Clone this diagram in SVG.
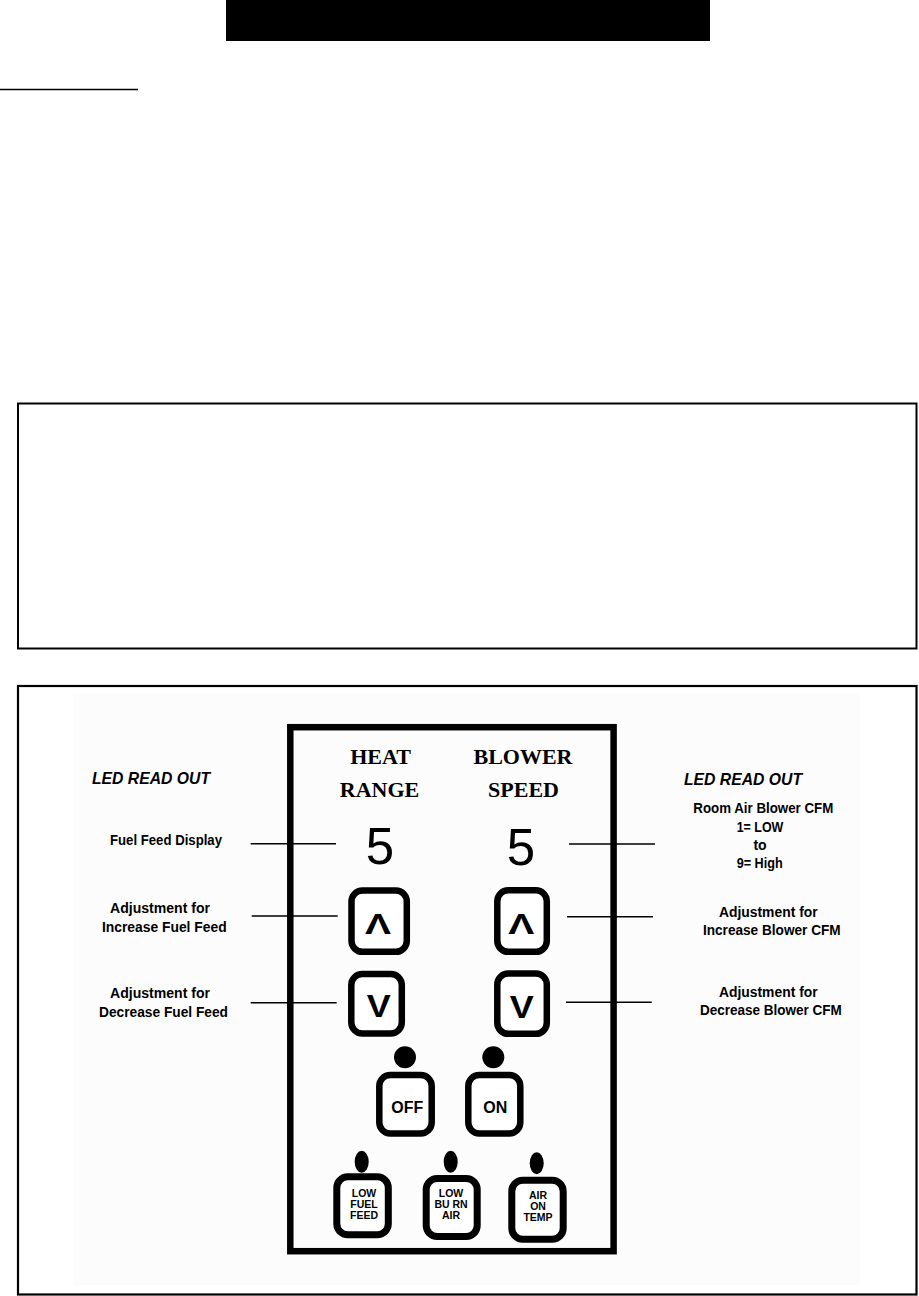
<svg xmlns="http://www.w3.org/2000/svg" width="919" height="1296" viewBox="0 0 919 1296">
<style>
.lbl{font-family:"Liberation Sans",Arial,sans-serif;font-weight:bold;font-size:14px;fill:#000;text-anchor:middle}
.led{font-family:"Liberation Sans",Arial,sans-serif;font-weight:bold;font-style:italic;font-size:16.5px;fill:#000}
.hdr{font-family:"Liberation Serif","Times New Roman",serif;font-weight:bold;font-size:22px;fill:#000;text-anchor:middle}
.num{font-family:"Liberation Sans",Arial,sans-serif;font-size:51px;fill:#000;text-anchor:middle}
.sym{font-family:"Liberation Sans",Arial,sans-serif;font-weight:bold;fill:#000;text-anchor:middle}
.btn{fill:#fff;stroke:#000;stroke-width:6.5}
.btn2{fill:#fff;stroke:#000;stroke-width:7}
.tiny{font-family:"Liberation Sans",Arial,sans-serif;font-weight:bold;font-size:10.5px;fill:#000;text-anchor:middle}
.conn line{stroke:#000;stroke-width:1.6}
</style>
<rect width="919" height="1296" fill="#fff"/>
<g id="header"><rect x="226" y="0" width="484" height="41" fill="#000"/></g>
<g id="underline"><line x1="0" y1="89.5" x2="138" y2="89.5" stroke="#000" stroke-width="1.6"/></g>
<g id="box1"><rect x="18" y="403.5" width="898.5" height="245" fill="none" stroke="#000" stroke-width="2"/></g>
<g id="box2">
<rect x="73" y="693" width="787" height="592" fill="#fcfcfc"/>
<rect x="18" y="686" width="898.5" height="608.5" fill="none" stroke="#000" stroke-width="2.2"/>
</g>
<g id="panel">
<rect x="290.3" y="727.2" width="323.3" height="524" fill="none" stroke="#000" stroke-width="6.5"/>
<text class="hdr" x="380.5" y="764">HEAT</text>
<text class="hdr" x="379.5" y="797">RANGE</text>
<text class="hdr" x="523" y="764">BLOWER</text>
<text class="hdr" x="523.5" y="797">SPEED</text>
</g>
<g id="heat-display"><text class="num" x="380" y="864">5</text></g>
<g id="blower-display"><text class="num" x="521" y="865">5</text></g>
<g id="heat-up"><rect class="btn" x="351.5" y="890.5" width="55.3" height="61.3" rx="11"/><text class="sym" x="378" y="934" font-size="30" textLength="26" lengthAdjust="spacingAndGlyphs">Λ</text></g>
<g id="heat-down"><rect class="btn" x="351.3" y="974" width="50.5" height="59.5" rx="11"/><text class="sym" x="378.7" y="1017.3" font-size="32" textLength="24" lengthAdjust="spacingAndGlyphs">V</text></g>
<g id="blower-up"><rect class="btn" x="497.3" y="890.3" width="49.5" height="61.5" rx="11"/><text class="sym" x="521.2" y="934" font-size="30" textLength="26" lengthAdjust="spacingAndGlyphs">Λ</text></g>
<g id="blower-down"><rect class="btn" x="497.3" y="973.5" width="49.5" height="60.3" rx="11"/><text class="sym" x="521.7" y="1017.5" font-size="32" textLength="24" lengthAdjust="spacingAndGlyphs">V</text></g>
<g id="off"><circle cx="405" cy="1057.3" r="11"/><rect class="btn" x="379.3" y="1075" width="52.4" height="58.4" rx="11"/><text class="sym" x="407.2" y="1113.3" font-size="16">OFF</text></g>
<g id="on"><circle cx="493.3" cy="1057.3" r="11"/><rect class="btn" x="468.3" y="1075" width="52" height="58.4" rx="11"/><text class="sym" x="495.3" y="1113.3" font-size="16">ON</text></g>
<g id="low-fuel-feed"><ellipse cx="361.7" cy="1161.7" rx="7" ry="11"/><rect class="btn2" x="336.8" y="1176.8" width="51.5" height="58" rx="11"/>
<text class="tiny" x="364" y="1196.7">LOW</text><text class="tiny" x="364" y="1207.7">FUEL</text><text class="tiny" x="364" y="1219">FEED</text></g>
<g id="low-burn-air"><ellipse cx="450.7" cy="1161.7" rx="7" ry="11"/><rect class="btn2" x="426.2" y="1178.5" width="51" height="58" rx="11"/>
<text class="tiny" x="451" y="1197">LOW</text><text class="tiny" x="451" y="1208">BU RN</text><text class="tiny" x="451" y="1219.3">AIR</text></g>
<g id="air-on-temp"><ellipse cx="536.7" cy="1163.3" rx="7" ry="11"/><rect class="btn2" x="511.8" y="1180.2" width="51.4" height="59" rx="11"/>
<text class="tiny" x="538" y="1199">AIR</text><text class="tiny" x="538" y="1210">ON</text><text class="tiny" x="538" y="1221.3">TEMP</text></g>
<g id="left-labels">
<text class="led" x="92" y="784" textLength="118" lengthAdjust="spacingAndGlyphs">LED READ OUT</text>
<text class="lbl" x="166" y="845" textLength="112" lengthAdjust="spacingAndGlyphs">Fuel Feed Display</text>
<text class="lbl" x="160" y="913" textLength="100" lengthAdjust="spacingAndGlyphs">Adjustment for</text>
<text class="lbl" x="164.3" y="931.7" textLength="124.7" lengthAdjust="spacingAndGlyphs">Increase Fuel Feed</text>
<text class="lbl" x="160" y="998.3" textLength="100" lengthAdjust="spacingAndGlyphs">Adjustment for</text>
<text class="lbl" x="163.5" y="1016.7" textLength="129" lengthAdjust="spacingAndGlyphs">Decrease Fuel Feed</text>
</g>
<g id="right-labels">
<text class="led" x="684" y="785" textLength="118" lengthAdjust="spacingAndGlyphs">LED READ OUT</text>
<text class="lbl" x="763.3" y="813.3" textLength="140" lengthAdjust="spacingAndGlyphs">Room Air Blower CFM</text>
<text class="lbl" x="760" y="831.7" textLength="46.6" lengthAdjust="spacingAndGlyphs">1= LOW</text>
<text class="lbl" x="760" y="850">to</text>
<text class="lbl" x="759.7" y="867.7" textLength="46" lengthAdjust="spacingAndGlyphs">9= High</text>
<text class="lbl" x="768.3" y="916.7" textLength="98.7" lengthAdjust="spacingAndGlyphs">Adjustment for</text>
<text class="lbl" x="771.8" y="935" textLength="137.7" lengthAdjust="spacingAndGlyphs">Increase Blower CFM</text>
<text class="lbl" x="768.3" y="997" textLength="98.7" lengthAdjust="spacingAndGlyphs">Adjustment for</text>
<text class="lbl" x="770.8" y="1015" textLength="141.7" lengthAdjust="spacingAndGlyphs">Decrease Blower CFM</text>
</g>
<g id="connectors" class="conn">
<line x1="250.7" y1="843.7" x2="336" y2="843.7"/>
<line x1="251.7" y1="916" x2="337.7" y2="916"/>
<line x1="250.7" y1="1002.7" x2="336.7" y2="1002.7"/>
<line x1="569" y1="844" x2="655" y2="844"/>
<line x1="567" y1="916.7" x2="653" y2="916.7"/>
<line x1="566" y1="1002.3" x2="651.7" y2="1002.3"/>
</g>
</svg>
